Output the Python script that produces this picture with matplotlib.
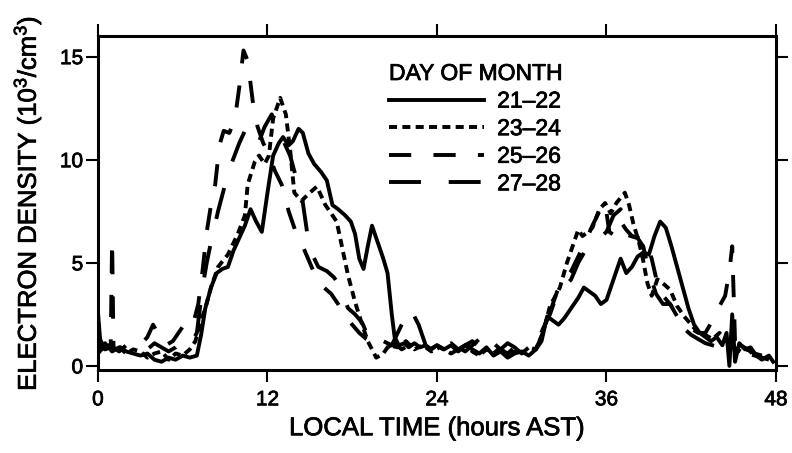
import matplotlib
matplotlib.use('Agg')
import matplotlib.pyplot as plt
import matplotlib.patheffects as pe

plt.rcParams['font.family'] = ['Liberation Sans', 'DejaVu Sans']
plt.rcParams['lines.scale_dashes'] = False

# electron density (10^3/cm^3) against local time (hours AST), one trace per day pair
t21 = [0.0, 0.15, 0.4, 0.8, 1.2, 1.6, 2.0, 2.5, 3.0, 3.5,
       4.0, 4.5, 5.0, 5.5, 6.0, 6.5, 7.0, 7.3, 7.6, 8.0,
       8.4, 8.8, 9.2, 9.6, 10.0, 10.4, 10.8, 11.2, 11.6, 12.0,
       12.4, 12.8, 13.1, 13.5, 13.8, 14.2, 14.5, 14.9, 15.3, 15.8,
       16.2, 16.6, 17.0, 17.5, 17.9, 18.2, 18.5, 18.8, 19.1, 19.4,
       19.8, 20.2, 20.5, 20.8, 21.0, 21.3, 21.7, 22.0, 22.4, 22.8,
       23.2, 23.6, 24.0, 24.5, 25.0, 25.5, 26.0, 26.5, 27.0, 27.5,
       28.0, 28.5, 29.0, 29.5, 30.0, 30.5, 31.0, 31.4, 31.8, 32.2,
       32.6, 33.0, 33.5, 34.0, 34.4, 34.8, 35.2, 35.6, 36.0, 36.5,
       37.0, 37.4, 37.8, 38.2, 38.6, 39.0, 39.4, 39.8, 40.2, 40.6,
       41.0, 41.4, 41.8, 42.2, 42.6, 43.0, 43.4, 43.8, 44.2, 44.5,
       44.7, 44.9, 45.1, 45.4, 45.8, 46.2, 46.6, 47.0, 47.5, 47.8]
d21 = [2.6, 1.3, 0.9, 1.0, 0.8, 0.9, 0.7, 0.6, 0.5, 0.6,
       0.3, 0.2, 0.4, 0.3, 0.5, 0.4, 0.5, 1.5, 2.8, 3.8,
       4.5, 4.7, 4.8, 5.6, 6.2, 6.8, 7.6, 7.0, 6.5, 8.4,
       10.2, 10.8, 11.1, 10.7, 10.9, 11.5, 11.3, 10.3, 9.8, 9.4,
       9.0, 7.8, 7.6, 7.3, 7.0, 6.4, 5.2, 4.7, 5.8, 6.8,
       6.0, 5.2, 4.5, 2.5, 1.4, 1.0, 1.1, 0.9, 1.1, 0.9,
       1.0, 0.8, 1.0, 0.8, 1.0, 0.7, 1.0, 0.8, 0.6, 0.9,
       0.5, 0.7, 0.4, 0.6, 0.7, 0.5, 0.8, 1.2, 2.4, 2.2,
       2.0, 2.3, 2.8, 3.3, 3.8, 3.6, 3.4, 3.0, 3.2, 4.2,
       5.2, 4.5, 4.8, 5.3, 5.5, 5.4, 6.3, 7.0, 6.7, 5.8,
       4.8, 3.8, 2.8, 2.0, 1.6, 1.4, 1.2, 1.4, 1.0, 1.6,
       0.0, 2.5, 0.2, 1.1, 0.8, 0.9, 0.5, 0.3, 0.5, 0.2]

t23 = [0.0, 0.5, 1.0, 1.5, 2.0, 2.5, 3.0, 3.5, 4.0, 4.5,
       5.0, 5.5, 6.0, 6.5, 6.9, 7.3, 7.6, 8.0, 8.5, 9.2,
       9.9, 10.4, 10.6, 11.1, 11.4, 11.8, 12.1, 12.4, 12.9, 13.3,
       13.6, 13.9, 14.4, 15.0, 15.5, 16.1, 16.9, 17.3, 17.7, 18.2,
       18.7, 19.1, 19.7, 20.2, 20.6, 21.2, 21.8, 22.4, 23.0, 23.6,
       24.2, 25.0, 25.5, 26.0, 26.5, 27.0, 27.5, 28.0, 28.5, 29.0,
       29.5, 30.0, 30.5, 31.0, 31.5, 32.0, 32.7, 33.2, 33.6, 34.0,
       34.3, 34.7, 35.0, 35.5, 35.9, 36.3, 36.7, 37.3, 37.6, 37.9,
       38.3, 38.6, 38.9, 39.2, 39.6, 40.0, 40.5, 41.0, 41.5, 42.0,
       42.5, 43.0, 43.5, 44.0, 44.5, 45.0, 45.5, 46.0, 46.5, 47.0]
d23 = [0.6, 1.0, 0.8, 0.9, 0.6, 0.8, 0.7, 0.4, 0.6, 0.7,
       0.3, 0.6, 0.5, 0.8, 1.2, 2.2, 2.8, 3.8, 4.8, 5.4,
       6.4, 7.3, 8.8, 9.9, 10.2, 9.8, 10.2, 12.0, 13.0, 12.2,
       10.5, 8.4, 8.0, 8.4, 8.7, 7.8, 7.0, 5.7, 4.4, 3.1,
       2.0, 1.2, 0.4, 0.6, 1.0, 0.9, 1.2, 0.8, 1.0, 0.7,
       0.9, 0.6, 0.8, 1.0, 0.7, 0.5, 0.8, 0.6, 0.9, 0.4,
       0.7, 0.6, 0.9, 0.8, 1.6, 2.9, 3.8, 5.0, 5.8, 6.6,
       6.3, 6.5, 6.7, 7.6, 7.9, 7.4, 7.9, 8.4, 7.8, 6.9,
       6.0, 5.1, 4.0, 3.4, 4.2, 4.0, 3.7, 2.9, 2.4, 2.0,
       1.6, 1.5, 1.3, 1.6, 1.2, 0.9, 0.7, 0.8, 0.5, 0.4]

t25 = [0.0, 0.5, 0.9, 1.0, 1.1, 1.5, 2.0, 2.5, 3.0, 3.5,
       3.9, 4.3, 4.8, 5.3, 5.7, 6.0, 6.4, 6.8, 7.1, 7.4,
       7.7, 8.0, 8.3, 8.6, 8.9, 9.3, 9.7, 10.0, 10.3, 10.6,
       11.0, 11.3, 11.7, 12.1, 12.5, 13.0, 13.5, 14.0, 14.5, 15.0,
       15.5, 16.0, 16.5, 17.0, 17.5, 18.0, 18.5, 19.0, 19.5, 20.0,
       20.5, 21.0, 21.5, 22.0, 22.5, 23.0, 23.5, 24.0, 24.5, 25.0,
       25.5, 26.0, 26.5, 27.0, 27.5, 28.0, 28.5, 29.0, 29.5, 30.0,
       30.5, 31.0, 31.5, 32.0, 32.5, 33.0, 33.5, 34.0, 34.5, 35.0,
       35.5, 35.9, 36.2, 36.6, 37.0, 37.4, 37.8, 38.3, 38.8, 39.2,
       39.6, 40.0, 40.5, 41.0, 41.5, 42.0, 42.5, 43.0, 43.5, 44.0,
       44.4, 44.7, 44.9, 45.1, 45.5, 46.0, 46.5, 47.0, 47.5]
d25 = [1.0, 0.8, 0.9, 6.1, 0.9, 0.7, 1.0, 1.1, 1.0, 1.4,
       2.0, 1.5, 1.0, 1.2, 1.6, 1.9, 1.7, 2.2, 3.0, 4.6,
       6.5, 7.8, 8.8, 10.7, 11.4, 11.3, 12.0, 13.5, 15.3, 14.8,
       12.6, 11.6, 10.8, 10.3, 9.5, 8.8, 7.5, 6.5, 5.8, 5.0,
       4.2, 3.8, 3.5, 3.0, 2.4, 2.0, 1.6, 1.3, 1.1, 1.0,
       0.9, 1.1, 0.8, 1.0, 0.9, 1.1, 0.8, 1.0, 0.8, 1.1,
       0.9, 0.7, 1.0, 1.3, 1.5, 1.1, 0.8, 0.6, 0.9, 0.7,
       0.9, 0.8, 1.6, 2.6, 3.6, 4.2, 4.6, 5.3, 6.0, 6.8,
       7.5, 7.9, 6.5, 6.3, 7.0, 6.6, 6.3, 6.2, 6.0, 5.2,
       4.0, 3.4, 3.0, 2.4, 2.0, 1.8, 1.6, 1.6, 2.2, 2.9,
       3.4, 4.6, 5.8, 1.2, 0.8, 0.6, 0.5, 0.4, 0.3]

t27 = [0.0, 0.5, 1.0, 1.5, 2.0, 2.5, 3.0, 3.5, 4.0, 4.5,
       5.0, 5.5, 6.0, 6.5, 7.0, 7.4, 7.7, 8.0, 8.5, 9.0,
       9.5, 10.0, 10.4, 10.8, 11.3, 11.8, 12.3, 12.7, 13.2, 13.6,
       14.0, 14.4, 14.8, 15.1, 15.6, 16.2, 16.7, 17.1, 17.7, 18.2,
       18.7, 19.2, 19.6, 20.2, 20.8, 21.5, 22.1, 22.7, 23.2, 23.8,
       24.4, 25.0, 25.5, 26.0, 26.5, 27.0, 27.5, 28.0, 28.5, 29.0,
       29.5, 30.0, 30.5, 31.0, 31.5, 32.0, 32.5, 33.0, 33.5, 34.0,
       34.5, 35.0, 35.5, 36.0, 36.5, 37.0, 37.3, 37.7, 38.2, 38.6,
       39.0, 39.5, 40.0, 40.5, 41.0, 41.5, 42.0, 42.5, 43.0, 43.5,
       44.0, 44.5, 45.0, 45.5, 46.0, 46.5, 47.0]
d27 = [0.9, 1.1, 0.7, 0.9, 0.8, 1.0, 0.9, 0.8, 1.1, 0.9,
       0.7, 0.9, 1.2, 1.0, 1.6, 3.8, 5.0, 6.0, 7.5, 8.8,
       9.9, 10.8, 11.4, 10.8, 10.7, 11.6, 12.2, 11.6, 10.8, 10.2,
       9.2, 8.4, 6.5, 5.5, 4.8, 4.6, 4.3, 3.9, 2.8, 2.5,
       2.1, 1.3, 1.0, 1.2, 1.0, 2.0, 2.8, 2.0, 1.0, 1.2,
       0.9, 1.1, 0.8, 1.0, 1.2, 0.9, 0.7, 1.0, 0.8, 1.1,
       0.9, 0.6, 0.8, 0.9, 1.8, 2.5, 3.5, 3.8, 4.2, 5.0,
       5.6, 5.9, 6.2, 6.5, 7.3, 7.6, 6.4, 6.3, 6.2, 5.8,
       4.6, 3.5, 3.0, 3.0, 2.5, 1.8, 1.5, 1.3, 1.1, 1.0,
       0.9, 0.8, 0.8, 1.0, 0.8, 0.6, 0.5]

day_labels = ['21–22', '23–24', '25–26', '27–28']
x_ticks = [0, 12, 24, 36, 48]
y_ticks = [0, 5, 10, 15]

fig = plt.figure(figsize=(7.92, 4.53), dpi=100)
ax = fig.add_axes([0.1237, 0.1832, 0.8561, 0.7373])

lw = 2.8
ax.plot(t21, d21, color='black', lw=lw, solid_joinstyle='round', label=day_labels[0])
ax.plot(t23, d23, color='black', lw=lw, dashes=(5.8, 3.8), label=day_labels[1])
ax.plot(t25, d25, color='black', lw=lw, dashes=(16, 16), label=day_labels[2])
ax.plot(t27, d27, color='black', lw=lw, dashes=(23, 20), label=day_labels[3])

ax.set_xlim(0, 48)
ax.set_ylim(-0.2, 16.0)
ax.set_xticks(x_ticks)
ax.set_yticks(y_ticks)
ax.tick_params(direction='out', length=8.6, width=1.5, labelsize=15,
               top=True, right=True, labeltop=False, labelright=False)
ax.tick_params(axis='x', pad=6)
ax.tick_params(axis='y', pad=2)
for sp in ax.spines.values():
    sp.set_linewidth(2.2)

ax.set_xlabel('LOCAL TIME (hours AST)', fontsize=18.5, labelpad=5)
ax.set_ylabel('ELECTRON DENSITY (10$\\mathregular{^3}$/cm$\\mathregular{^3}$)',
              fontsize=18.5, labelpad=12)

leg = ax.legend(title='DAY OF MONTH', loc='upper left',
                bbox_to_anchor=(389 / 792, 1 - 62 / 453), bbox_transform=fig.transFigure,
                frameon=False, fontsize=16.5, title_fontsize=16.5,
                handlelength=4.15, handletextpad=0.57, labelspacing=0.2,
                borderpad=0, borderaxespad=0, alignment='left')

# slightly heavier strokes on all text, like the printed lettering
heavy = [pe.withStroke(linewidth=0.55, foreground='black')]
texts = ax.get_xticklabels() + ax.get_yticklabels() + leg.get_texts()
texts += [ax.xaxis.label, ax.yaxis.label, leg.get_title()]
for t in texts:
    t.set_path_effects(heavy)

fig.savefig('out.png', dpi=100)
